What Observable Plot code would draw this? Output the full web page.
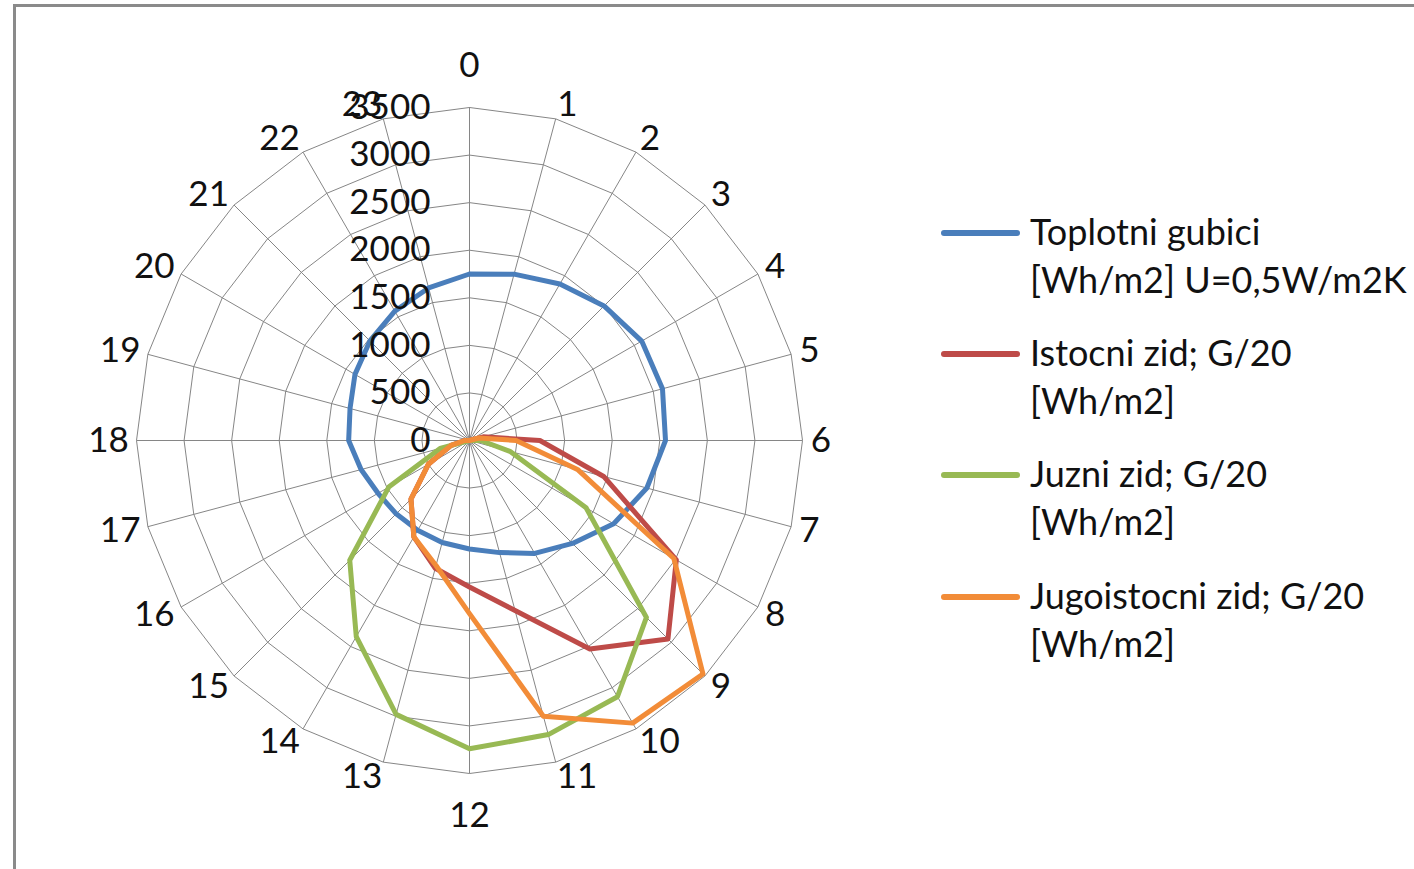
<!DOCTYPE html>
<html>
<head>
<meta charset="utf-8">
<script src="https://cdn.jsdelivr.net/npm/d3@7"></script>
<script src="https://cdn.jsdelivr.net/npm/@observablehq/plot@0.6"></script>
<style>
  html, body { margin: 0; padding: 0; background: #fff; overflow: hidden; }
  #wrap { position: relative; width: 1414px; height: 869px; overflow: hidden; font-family: Lato, "Open Sans", sans-serif; }
  #frame { position: absolute; left: 13px; top: 4px; width: 1420px; height: 900px; border: 3px solid #8a8a8a; box-sizing: border-box; pointer-events: none; }
  #chart { position: absolute; left: 0; top: 0; }
  .leg { position: absolute; left: 941px; font-size: 36px; line-height: 48px; color: #111; white-space: nowrap; }
  .leg .sw { position: absolute; left: 0; top: 22px; width: 79px; height: 6px; border-radius: 3px; }
  .leg .tx { position: absolute; left: 89px; top: 0; }
</style>
</head>
<body>
<div id="wrap">
  <div id="chart"></div>
  <div id="frame"></div>
</div>
<script>
// ---- data ----
const hours = ["0","1","2","3","4","5","6","7","8","9","10","11","12","13","14","15","16","17","18","19","20","21","22","23"];
const levels = [0, 500, 1000, 1500, 2000, 2500, 3000, 3500];
const seriesNames = [
  "Toplotni gubici [Wh/m2] U=0,5W/m2K",
  "Istocni zid; G/20 [Wh/m2]",
  "Juzni zid; G/20 [Wh/m2]",
  "Jugoistocni zid; G/20 [Wh/m2]"
];
const legendLines = [
  ["Toplotni gubici", "[Wh/m2] U=0,5W/m2K"],
  ["Istocni zid; G/20", "[Wh/m2]"],
  ["Juzni zid; G/20", "[Wh/m2]"],
  ["Jugoistocni zid; G/20", "[Wh/m2]"]
];
const seriesColors = ["#4a7ebb", "#be4b48", "#98b954", "#f28c38"];
const toplotni    = [1750,1810,1900,2000,2090,2100,2060,1930,1750,1530,1370,1220,1140,1110,1090,1090,1110,1180,1270,1300,1390,1480,1570,1660];
const istocni     = [0,0,0,0,0,150,740,1460,2510,2950,2530,1850,1540,1390,1170,870,500,200,50,0,0,0,0,0];
const juzni       = [0,0,0,0,0,0,120,440,1415,2630,3110,3200,3240,2980,2380,1780,980,320,0,0,0,0,0,0];
const jugoistocni = [0,0,0,0,0,100,490,1175,2480,3470,3430,3000,1820,1360,1170,870,500,200,50,0,0,0,0,0];
const seriesValues = [toplotni, istocni, juzni, jugoistocni];

// ---- derived tables ----
const maxV = 3500;
const ang = i => i * 2 * Math.PI / hours.length;
const closed = arr => [...arr.keys(), 0];

const seriesData = seriesNames.flatMap((name, s) =>
  closed(hours).map(i => ({series: name, i, v: seriesValues[s][i]})));

const gridData = levels.filter(l => l > 0).flatMap(l =>
  closed(hours).map(i => ({level: l, i})));

const spokes = hours.map((h, i) => ({i}));

// label placement (pixel offsets converted to data units)
const pxPerUnit = 333 / maxV;
const hourLabels = hours.map((h, i) => {
  const sx = Math.sin(ang(i)), cy = Math.cos(ang(i));
  const vertical = Math.abs(sx) < 0.01;
  const xpx = 342 * sx + (vertical ? 0 : Math.sign(sx) * h.length * 9.5);
  const ypx = 342 * cy + (vertical ? Math.sign(cy) * 33 : 6 * cy);
  return {h, x: xpx / pxPerUnit, y: ypx / pxPerUnit};
});

const chart = Plot.plot({
  width: 1414,
  height: 869,
  marginLeft: 136,
  marginRight: 612,
  marginTop: 107,
  marginBottom: 96,
  x: {domain: [-maxV, maxV], axis: null},
  y: {domain: [-maxV, maxV], axis: null},
  color: {domain: seriesNames, range: seriesColors},
  style: {background: "transparent", overflow: "visible", fontFamily: "Lato, 'Open Sans', sans-serif"},
  marks: [
    Plot.line(gridData, {
      x: d => d.level * Math.sin(ang(d.i)),
      y: d => d.level * Math.cos(ang(d.i)),
      z: "level", stroke: "#868686", strokeWidth: 1
    }),
    Plot.link(spokes, {
      x1: 0, y1: 0,
      x2: d => maxV * Math.sin(ang(d.i)),
      y2: d => maxV * Math.cos(ang(d.i)),
      stroke: "#868686", strokeWidth: 1
    }),
    Plot.line(seriesData, {
      x: d => d.v * Math.sin(ang(d.i)),
      y: d => d.v * Math.cos(ang(d.i)),
      z: "series", stroke: "series",
      strokeWidth: 5, strokeLinejoin: "round", strokeLinecap: "round"
    }),
    Plot.text(levels, {
      x: 0, y: d => d, text: d => String(d),
      dx: -39, textAnchor: "end", fontSize: 35, fill: "#111"
    }),
    Plot.text(hourLabels, {
      x: "x", y: "y", text: "h", fontSize: 35, fill: "#111"
    })
  ]
});
document.getElementById("chart").appendChild(chart);

// ---- legend ----
const legendCenters = [233, 354, 475, 597];
const wrap = document.getElementById("wrap");
seriesNames.forEach((name, s) => {
  const item = document.createElement("div");
  item.className = "leg";
  item.style.top = (legendCenters[s] - 26) + "px";
  const sw = document.createElement("div");
  sw.className = "sw";
  sw.style.background = seriesColors[s];
  sw.style.top = "23px";
  const tx = document.createElement("div");
  tx.className = "tx";
  tx.innerHTML = legendLines[s].join("<br>");
  item.appendChild(sw);
  item.appendChild(tx);
  wrap.appendChild(item);
});
</script>
</body>
</html>
